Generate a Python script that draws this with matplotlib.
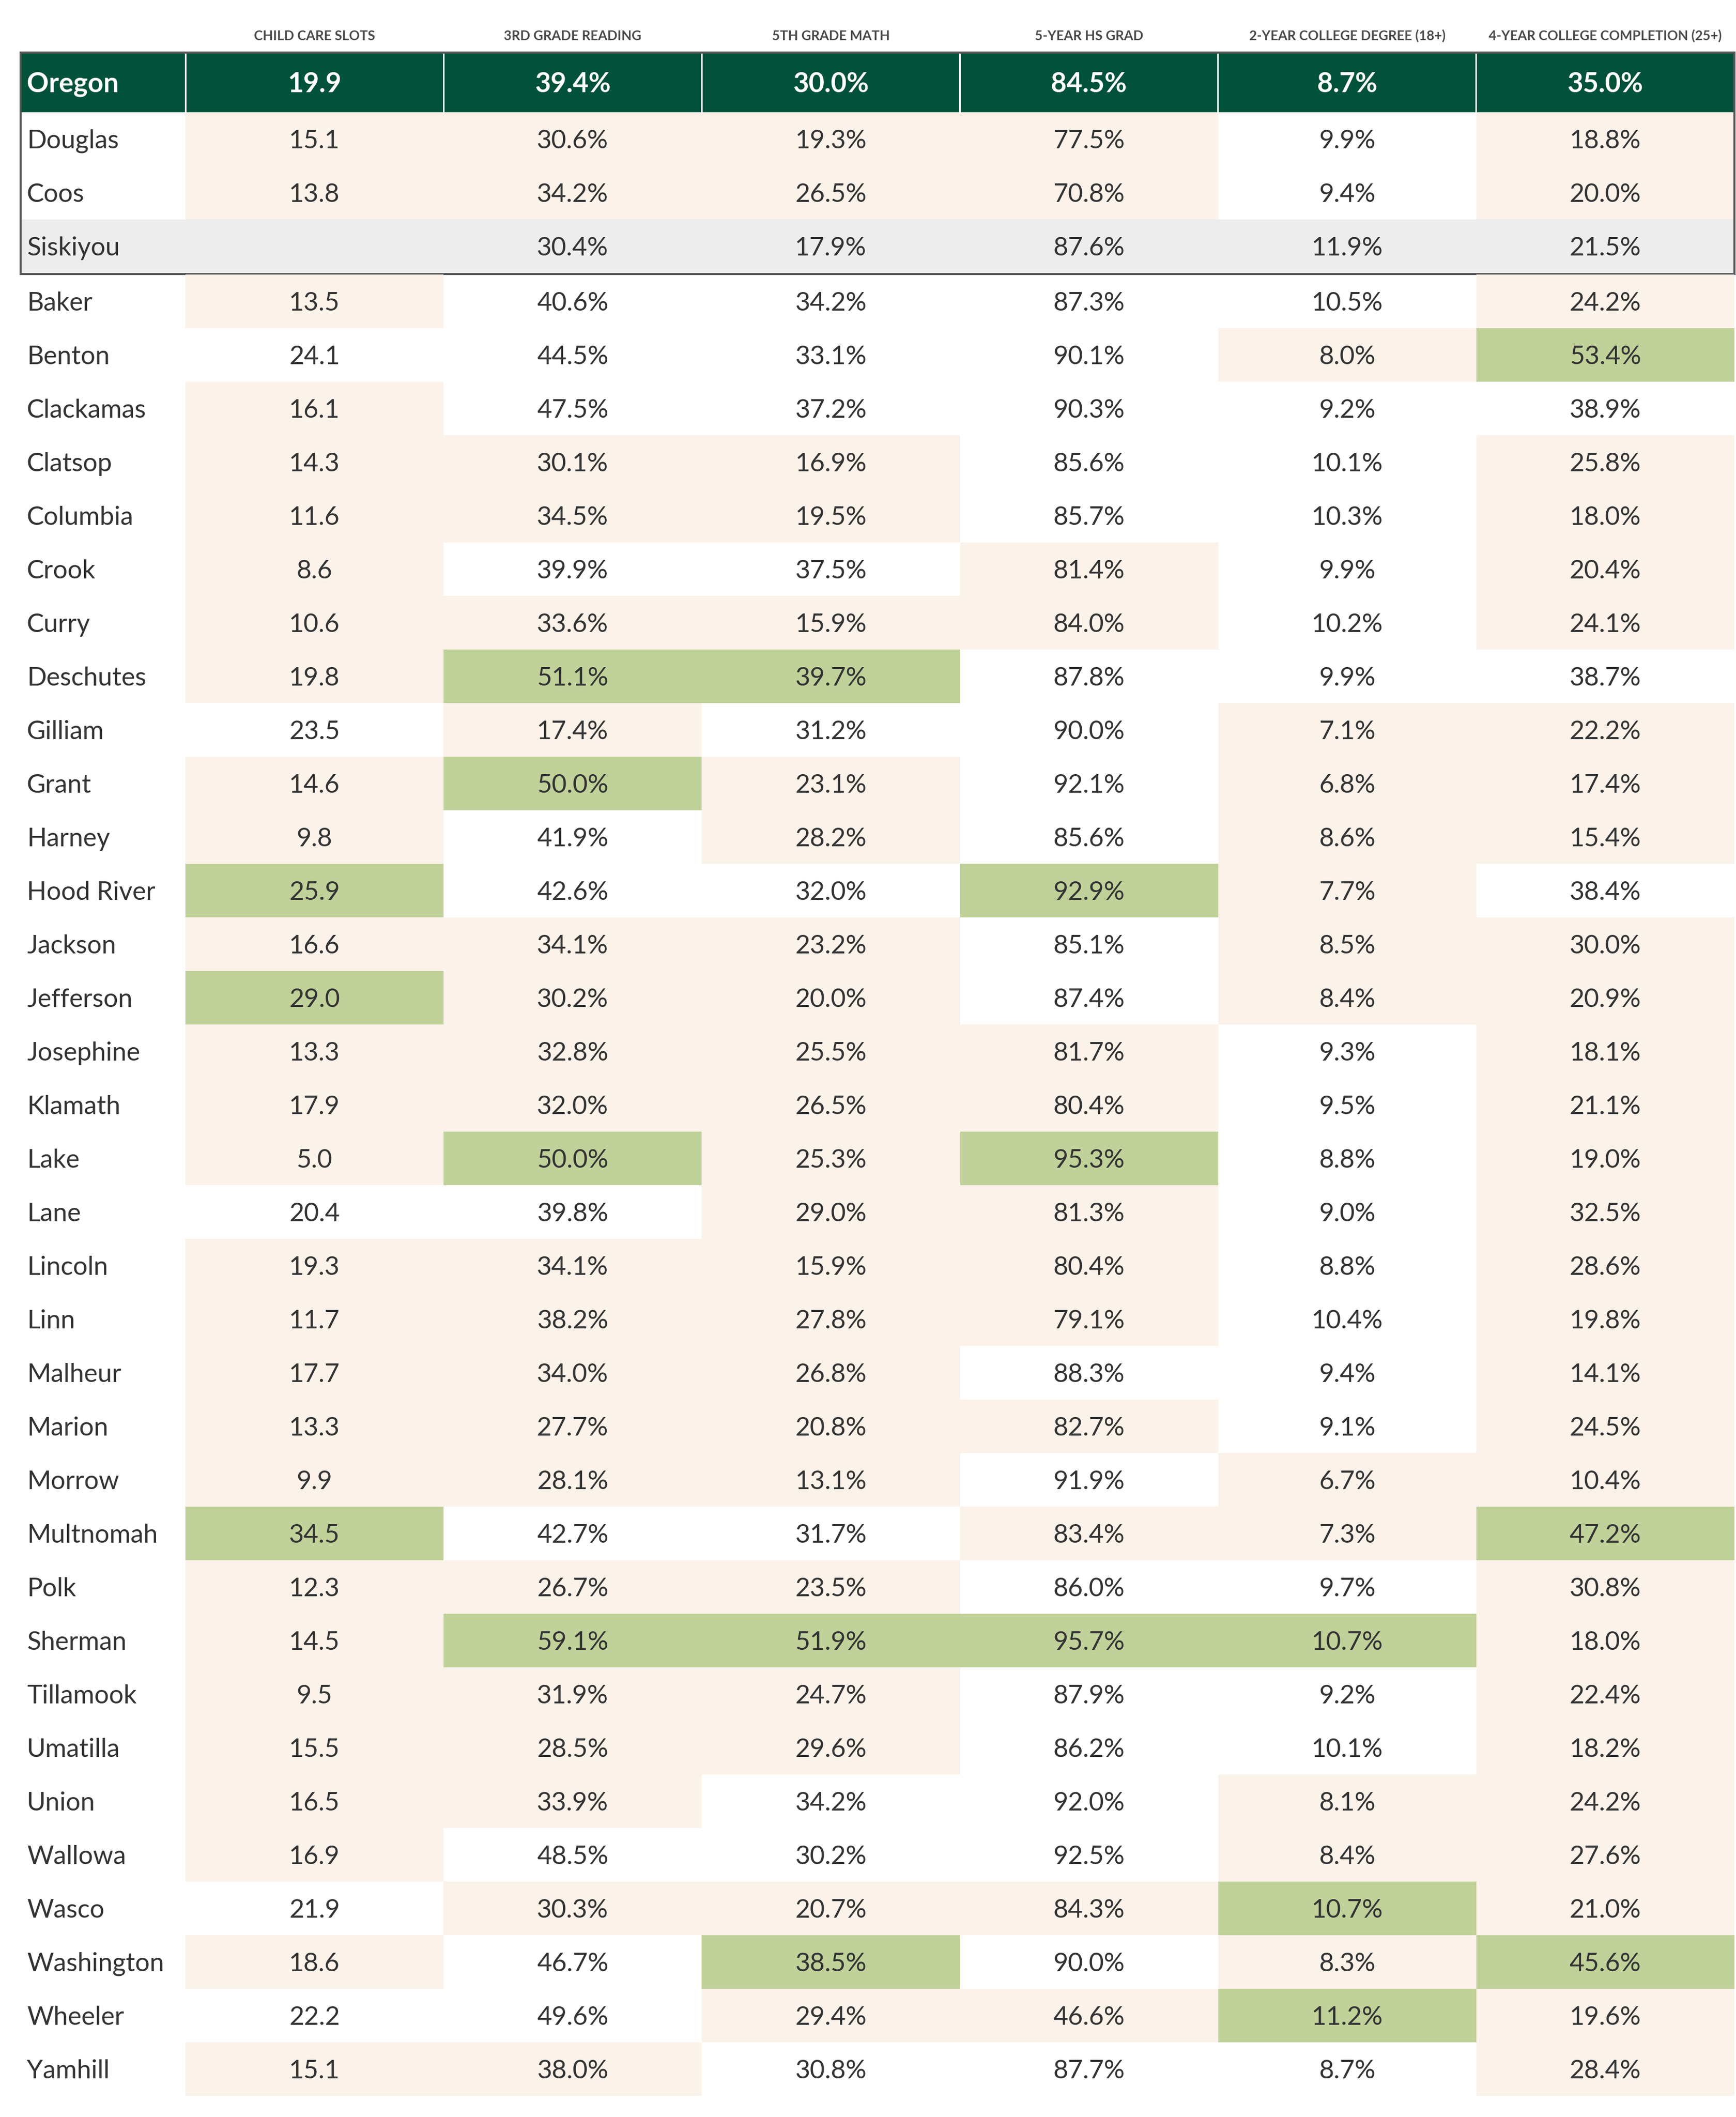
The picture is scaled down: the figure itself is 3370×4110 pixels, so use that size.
import matplotlib
matplotlib.use("Agg")
import matplotlib.pyplot as plt
from matplotlib.patches import Rectangle

# ---------------- data ----------------
columns = ["CHILD CARE SLOTS", "3RD GRADE READING", "5TH GRADE MATH",
           "5-YEAR HS GRAD", "2-YEAR COLLEGE DEGREE (18+)",
           "4-YEAR COLLEGE COMPLETION (25+)"]
percent_cols = [False, True, True, True, True, True]

state_name = "Oregon"
state_values = [19.9, 39.4, 30.0, 84.5, 8.7, 35.0]

focus_counties = ["Douglas", "Coos", "Siskiyou"]
focus_values = [
    [15.1, 30.6, 19.3, 77.5, 9.9, 18.8],
    [13.8, 34.2, 26.5, 70.8, 9.4, 20.0],
    [None, 30.4, 17.9, 87.6, 11.9, 21.5],
]
out_of_state = ["Siskiyou"]

counties = ["Baker", "Benton", "Clackamas", "Clatsop", "Columbia", "Crook",
            "Curry", "Deschutes", "Gilliam", "Grant", "Harney", "Hood River",
            "Jackson", "Jefferson", "Josephine", "Klamath", "Lake", "Lane",
            "Lincoln", "Linn", "Malheur", "Marion", "Morrow", "Multnomah",
            "Polk", "Sherman", "Tillamook", "Umatilla", "Union", "Wallowa",
            "Wasco", "Washington", "Wheeler", "Yamhill"]
child_care = [13.5, 24.1, 16.1, 14.3, 11.6, 8.6, 10.6, 19.8, 23.5, 14.6, 9.8,
              25.9, 16.6, 29.0, 13.3, 17.9, 5.0, 20.4, 19.3, 11.7, 17.7, 13.3,
              9.9, 34.5, 12.3, 14.5, 9.5, 15.5, 16.5, 16.9, 21.9, 18.6, 22.2,
              15.1]
reading_3rd = [40.6, 44.5, 47.5, 30.1, 34.5, 39.9, 33.6, 51.1, 17.4, 50.0,
               41.9, 42.6, 34.1, 30.2, 32.8, 32.0, 50.0, 39.8, 34.1, 38.2,
               34.0, 27.7, 28.1, 42.7, 26.7, 59.1, 31.9, 28.5, 33.9, 48.5,
               30.3, 46.7, 49.6, 38.0]
math_5th = [34.2, 33.1, 37.2, 16.9, 19.5, 37.5, 15.9, 39.7, 31.2, 23.1, 28.2,
            32.0, 23.2, 20.0, 25.5, 26.5, 25.3, 29.0, 15.9, 27.8, 26.8, 20.8,
            13.1, 31.7, 23.5, 51.9, 24.7, 29.6, 34.2, 30.2, 20.7, 38.5, 29.4,
            30.8]
hs_grad = [87.3, 90.1, 90.3, 85.6, 85.7, 81.4, 84.0, 87.8, 90.0, 92.1, 85.6,
           92.9, 85.1, 87.4, 81.7, 80.4, 95.3, 81.3, 80.4, 79.1, 88.3, 82.7,
           91.9, 83.4, 86.0, 95.7, 87.9, 86.2, 92.0, 92.5, 84.3, 90.0, 46.6,
           87.7]
college_2yr = [10.5, 8.0, 9.2, 10.1, 10.3, 9.9, 10.2, 9.9, 7.1, 6.8, 8.6, 7.7,
               8.5, 8.4, 9.3, 9.5, 8.8, 9.0, 8.8, 10.4, 9.4, 9.1, 6.7, 7.3,
               9.7, 10.7, 9.2, 10.1, 8.1, 8.4, 10.7, 8.3, 11.2, 8.7]
college_4yr = [24.2, 53.4, 38.9, 25.8, 18.0, 20.4, 24.1, 38.7, 22.2, 17.4,
               15.4, 38.4, 30.0, 20.9, 18.1, 21.1, 19.0, 32.5, 28.6, 19.8,
               14.1, 24.5, 10.4, 47.2, 30.8, 18.0, 22.4, 18.2, 24.2, 27.6,
               21.0, 45.6, 19.6, 28.4]
county_values = [list(r) for r in zip(child_care, reading_3rd, math_5th,
                                      hs_grad, college_2yr, college_4yr)]

# ---------------- style ----------------
W, H = 3370, 4110
DARK_GREEN = "#02513A"
BEIGE = "#FBF2E9"
GREEN = "#C0D199"
GRAY = "#EDEDED"
BORDER = "#555555"
TEXT = "#333333"
HEAD_TEXT = "#4A4A4A"
FONT = ["Lato", "DejaVu Sans"]

X0, LABEL_END, X1 = 40, 360, 3367
COL_W = (X1 - LABEL_END) / len(columns)
HEADER_Y = 69
STATE_TOP, STATE_BOT = 102, 218
ROW_H = 104
COUNTY_TOP = STATE_BOT + len(focus_counties) * ROW_H + 3
DATA_FS = 36
STATE_FS = 38
HEAD_FS = 18.5
CAP = 0.7165  # Lato cap height / em
PX_PER_PT = 100 / 72


def fmt(v, pct):
    if v is None:
        return ""
    return f"{v:.1f}%" if pct else f"{v:.1f}"


# top-3 (with ties) per column among Oregon counties
thresholds = []
for j in range(len(columns)):
    vals = sorted((r[j] for r in county_values), reverse=True)
    thresholds.append(vals[2])


def cell_color(v, j, rank=True):
    if v is None:
        return None
    if rank and v >= thresholds[j]:
        return GREEN
    if v < state_values[j]:
        return BEIGE
    return None


fig = plt.figure(figsize=(W / 100, H / 100), dpi=100)
ax = fig.add_axes([0, 0, 1, 1])
ax.set_xlim(0, W)
ax.set_ylim(H, 0)
ax.axis("off")


def baseline(center, fs):
    return center + fs * PX_PER_PT * CAP / 2


def col_x(j):
    return LABEL_END + j * COL_W


# headers
for j, c in enumerate(columns):
    ax.text(col_x(j) + COL_W / 2, baseline(HEADER_Y, HEAD_FS), c,
            ha="center", va="baseline", fontsize=HEAD_FS, fontweight="bold",
            color=HEAD_TEXT, family=FONT)

# state row
ax.add_patch(Rectangle((X0, STATE_TOP), X1 - X0, STATE_BOT - STATE_TOP,
                       facecolor=DARK_GREEN, linewidth=0, antialiased=False))
for j in range(len(columns)):
    ax.add_patch(Rectangle((col_x(j) - 1.5, STATE_TOP), 3,
                           STATE_BOT - STATE_TOP, facecolor="white",
                           linewidth=0))
sc = (STATE_TOP + STATE_BOT) / 2
ax.text(52, baseline(sc, STATE_FS), state_name, ha="left", va="baseline",
        fontsize=STATE_FS, fontweight="bold", color="white", family=FONT)
for j, v in enumerate(state_values):
    ax.text(col_x(j) + COL_W / 2, baseline(sc, STATE_FS),
            fmt(v, percent_cols[j]), ha="center", va="baseline",
            fontsize=STATE_FS, fontweight="bold", color="white",
            family=FONT)


def draw_row(top, name, vals, shaded, rank):
    if shaded:
        ax.add_patch(Rectangle((X0, top), X1 - X0, ROW_H, facecolor=GRAY,
                               linewidth=0, antialiased=False))
    else:
        for j, v in enumerate(vals):
            colr = cell_color(v, j, rank)
            if colr:
                ax.add_patch(Rectangle((col_x(j), top), COL_W, ROW_H,
                                       facecolor=colr, linewidth=0,
                                       antialiased=False))
    cy = top + ROW_H / 2
    ax.text(52, baseline(cy, DATA_FS), name, ha="left", va="baseline",
            fontsize=DATA_FS, color=TEXT, family=FONT)
    for j, v in enumerate(vals):
        ax.text(col_x(j) + COL_W / 2, baseline(cy, DATA_FS),
                fmt(v, percent_cols[j]), ha="center", va="baseline",
                fontsize=DATA_FS, color=TEXT, family=FONT)


for i, (name, vals) in enumerate(zip(focus_counties, focus_values)):
    draw_row(STATE_BOT + i * ROW_H, name, vals, name in out_of_state, False)

box_bot = STATE_BOT + len(focus_counties) * ROW_H + 1.5
ax.add_patch(Rectangle((X0, STATE_TOP), X1 - X0, box_bot - STATE_TOP,
                       fill=False, edgecolor=BORDER, linewidth=4 * 72 / 100))

for i, (name, vals) in enumerate(zip(counties, county_values)):
    draw_row(COUNTY_TOP + i * ROW_H, name, vals, False, True)

fig.savefig("out.png", dpi=100, facecolor="white")
